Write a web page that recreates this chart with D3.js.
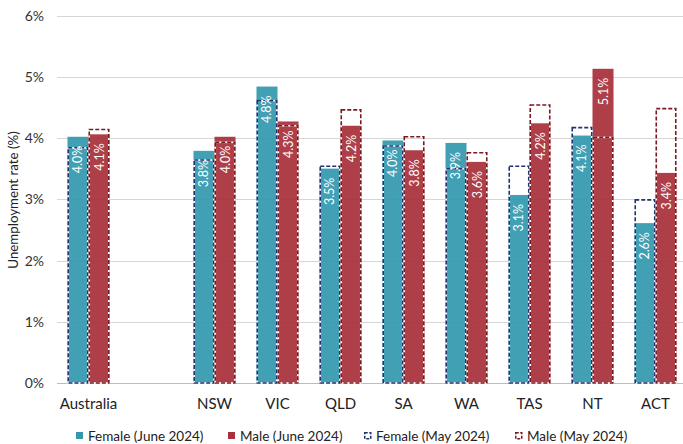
<!DOCTYPE html>
<html>
<head>
<meta charset="utf-8">
<script src="https://cdn.jsdelivr.net/npm/d3@7"></script>
<style>
  body { margin: 0; background: #fff; }
  text { font-family: Lato, "Open Sans", sans-serif; }
</style>
</head>
<body>
<script>
// chart values
const regions = ["Australia", "", "NSW", "VIC", "QLD", "SA", "WA", "TAS", "NT", "ACT"];
const femaleJune = [4.02, null, 3.79, 4.84, 3.50, 3.96, 3.92, 3.07, 4.04, 2.61];
const maleJune   = [4.06, null, 4.02, 4.27, 4.20, 3.80, 3.61, 4.24, 5.13, 3.43];
const femaleMay  = [3.84, null, 3.64, 4.61, 3.54, 3.87, 3.50, 3.54, 4.17, 2.99];
const maleMay    = [4.14, null, 3.93, 4.20, 4.46, 4.02, 3.76, 4.54, 4.01, 4.48];
const femaleLabels = ["4.0%", "", "3.8%", "4.8%", "3.5%", "4.0%", "3.9%", "3.1%", "4.1%", "2.6%"];
const maleLabels   = ["4.1%", "", "4.0%", "4.3%", "4.2%", "3.8%", "3.6%", "4.2%", "5.1%", "3.4%"];
const yTicks = [0, 1, 2, 3, 4, 5, 6];
const legendNames = ["Female (June 2024)", "Male (June 2024)", "Female (May 2024)", "Male (May 2024)"];

const w = 683, h = 444;
const teal = "#3499ae", red = "#a8303a";
const navy = "#1c3570", darkRed = "#7a1a20";

let svg = d3.select("body").append("svg")
  .attr("width", w)
  .attr("height", h);

let x = d3.scaleBand().domain(d3.range(regions.length)).range([57, 687]).paddingInner(0.333).paddingOuter(0.1665);
let sub = d3.scaleBand().domain([0, 1]).range([0, x.bandwidth()]);
let y = d3.scaleLinear().domain([0, 6]).range([383, 15.5]);

// gridlines
svg.append("g")
  .selectAll("line")
  .data(yTicks)
  .enter().append("line")
  .attr("x1", 57).attr("x2", 683)
  .attr("y1", d => Math.round(y(d)) + 0.5).attr("y2", d => Math.round(y(d)) + 0.5)
  .attr("stroke", d => d == 0 ? "#bcbcbc" : "#d6d6d6")
  .attr("stroke-width", 1);

// y tick labels
svg.append("g")
  .selectAll("text")
  .data(yTicks)
  .enter().append("text")
  .attr("x", 44)
  .attr("y", d => y(d) + 5)
  .attr("text-anchor", "end")
  .attr("font-size", 14)
  .attr("fill", "#333")
  .text(d => d + "%");

// y title
svg.append("text")
  .attr("transform", "translate(18," + 200 + ") rotate(-90)")
  .attr("text-anchor", "middle")
  .attr("font-size", 13.3)
  .attr("fill", "#222")
  .text("Unemployment rate (%)");

// x labels
svg.append("g")
  .selectAll("text")
  .data(regions)
  .enter().append("text")
  .attr("x", (d, i) => x(i) + x.bandwidth() / 2)
  .attr("y", 409)
  .attr("text-anchor", "middle")
  .attr("font-size", 15)
  .attr("fill", "#222")
  .text(d => d);

const idx = d3.range(regions.length).filter(i => femaleJune[i] != null);

// June bars
function bars(values, k, color) {
  svg.append("g")
    .selectAll("rect")
    .data(idx)
    .enter().append("rect")
    .attr("x", i => x(i) + sub(k))
    .attr("y", i => y(values[i]))
    .attr("width", sub.bandwidth())
    .attr("height", i => y(0) - y(values[i]))
    .attr("fill", color)
    .attr("fill-opacity", 0.93);
}
bars(femaleJune, 0, teal);
bars(maleJune, 1, red);

// May outlines (white under dark dashes)
function outlines(values, k, color) {
  let g = svg.append("g");
  ["#fff", color].forEach((c, j) => {
    g.selectAll("rect.o" + j)
      .data(idx)
      .enter().append("rect")
      .attr("class", "o" + j)
      .attr("x", i => x(i) + sub(k) + 0.75)
      .attr("y", i => y(values[i]))
      .attr("width", sub.bandwidth() - 1.5)
      .attr("height", i => y(0) - y(values[i]))
      .attr("fill", "none")
      .attr("stroke", c)
      .attr("stroke-width", 1.6)
      .attr("stroke-dasharray", j == 1 ? "4,2" : null);
  });
}
outlines(femaleMay, 0, navy);
outlines(maleMay, 1, darkRed);

// value labels inside June bars
function labels(values, texts, k) {
  svg.append("g")
    .selectAll("text")
    .data(idx)
    .enter().append("text")
    .attr("transform", i => "translate(" + (x(i) + sub(k) + sub.bandwidth() / 2 + 4.5) + "," + (y(values[i]) + 9) + ") rotate(-90)")
    .attr("text-anchor", "end")
    .attr("font-size", 12.5)
    .attr("fill", "#fff")
    .text(i => texts[i]);
}
labels(femaleJune, femaleLabels, 0);
labels(maleJune, maleLabels, 1);

// legend
const legendX = [76, 228, 364, 515];
let leg = svg.append("g");
legendNames.forEach((name, i) => {
  const lx = legendX[i], ly = 432;
  if (i < 2) {
    leg.append("rect").attr("x", lx).attr("y", ly).attr("width", 7).attr("height", 7)
      .attr("fill", i == 0 ? teal : red);
  } else {
    const c = i == 2 ? navy : darkRed;
    leg.append("rect").attr("x", lx + 0.75).attr("y", ly + 0.75).attr("width", 6).attr("height", 6)
      .attr("fill", "none").attr("stroke", c).attr("stroke-width", 1.5).attr("stroke-dasharray", "3,1.5");
  }
  leg.append("text")
    .attr("x", lx + 12)
    .attr("y", ly + 8.5)
    .attr("font-size", 13.5)
    .attr("fill", "#222")
    .text(name);
});
</script>
</body>
</html>
